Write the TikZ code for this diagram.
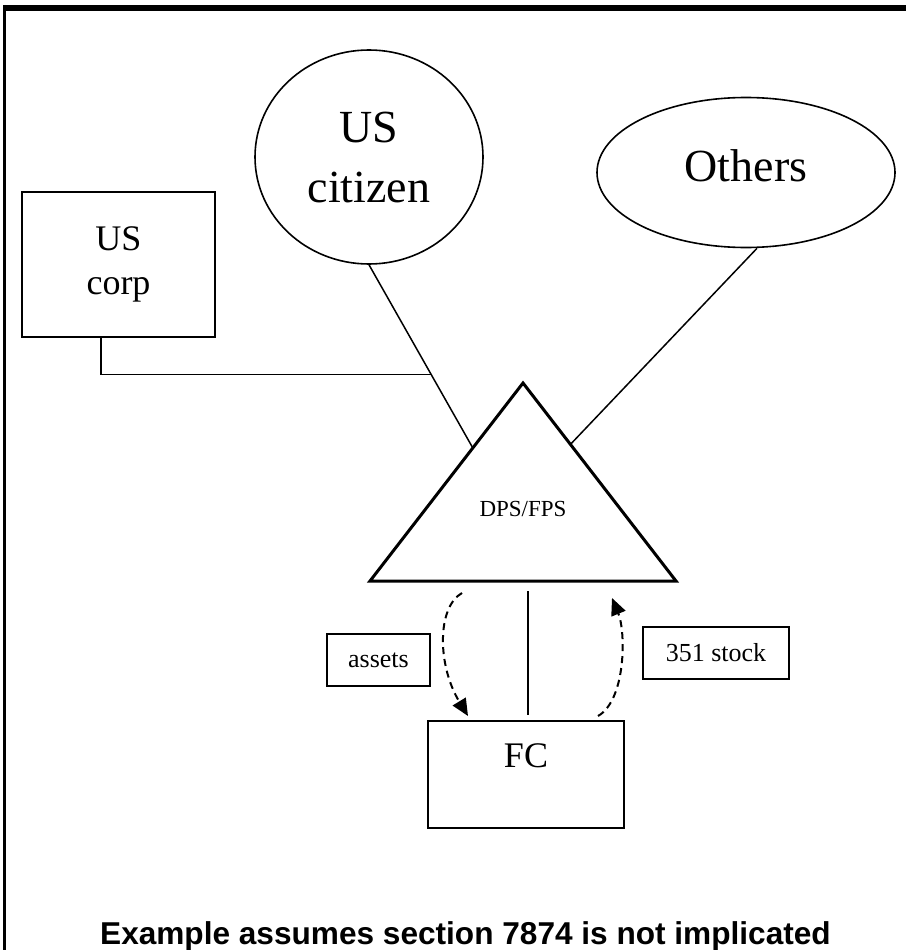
\documentclass[tikz,border=0pt]{standalone}
\usepackage{fontspec}
\setmainfont{Liberation Serif}
\newfontfamily\arialfont{Liberation Sans}
\usetikzlibrary{shapes.geometric,arrows.meta,calc}
\begin{document}
\begin{tikzpicture}[x=1pt,y=-1pt,
  thinline/.style={line width=1.5pt},
  boxnode/.style={draw,line width=1.8pt,rectangle,inner sep=0pt},
  ovalnode/.style={draw,line width=1.6pt,ellipse,inner sep=0pt},
  flow/.style={line width=2pt,dash pattern=on 7pt off 5pt,-{Triangle[length=17pt,width=15pt]}},
  big/.style={font=\fontsize{46}{60}\selectfont},
  mid/.style={font=\fontsize{36}{44}\selectfont},
  small/.style={font=\fontsize{26}{30}\selectfont}]
\useasboundingbox (0,0) rectangle (906,950);
% frame
\draw[line width=6pt] (3,8) -- (906,8);
\draw[line width=3pt] (4.7,5) -- (4.7,950);
% nodes
\node[boxnode,mid,align=center,minimum width=193pt,minimum height=145pt] (corp) at (118.5,264.5) {US\\corp};
\node[ovalnode,big,align=center,minimum width=228pt,minimum height=214pt] (cit) at (369,157) {US\\citizen};
\node[ovalnode,big,minimum width=298pt,minimum height=150pt,text depth=14pt] (oth) at (746,172.5) {Others};
% triangle
\coordinate (tl) at (370,581);
\coordinate (ta) at (523,383);
\coordinate (tr) at (676,581);
\draw[line width=3pt,line join=miter] (tl) -- (ta) -- (tr) -- cycle;
\node[font=\fontsize{23}{28}\selectfont] (dps) at (523,509) {DPS/FPS};
\coordinate (tL) at ($(tl)!0.672!(ta)$);
\coordinate (tR) at ($(tr)!0.69!(ta)$);
\coordinate (tb) at (528,581);
% FC
\node[boxnode,line width=2.6pt,minimum width=196pt,minimum height=107pt] (fc) at (526,774.5) {};
\node[mid] (fctext) at (526,756) {FC};
% labels
\node[boxnode,small,line width=2pt,minimum width=103pt,minimum height=52pt] (assets) at (378.5,660) {assets};
\node[boxnode,small,line width=2pt,minimum width=146pt,minimum height=52pt] (stock) at (716,653) {351 stock};
% connectors
\draw[thinline] (cit.south) -- (tL);
\coordinate (j) at ($(cit.south)!0.598!(tL)$);
\draw[thinline] ([xshift=-17.5pt]corp.south) |- (j);
\draw[thinline] ([xshift=11pt]oth.south) -- (tR);
\draw[line width=2pt] ([yshift=-10pt]tb) -- ([xshift=2pt,yshift=5pt]fc.north);
\coordinate (a1) at (462,593);
\coordinate (a2) at (468,716);
\coordinate (b1) at (598,716);
\coordinate (b2) at (612,598);
\draw[flow] (a1) .. controls (437,607) and (437,665) .. (a2);
\draw[flow] (b1) .. controls (626,700) and (626,632) .. (b2);
% caption
\node[font=\arialfont\bfseries\fontsize{31.6}{36}\selectfont,anchor=base] (cap) at (465.5,944) {Example assumes section 7874 is not implicated};
\end{tikzpicture}
\end{document}
